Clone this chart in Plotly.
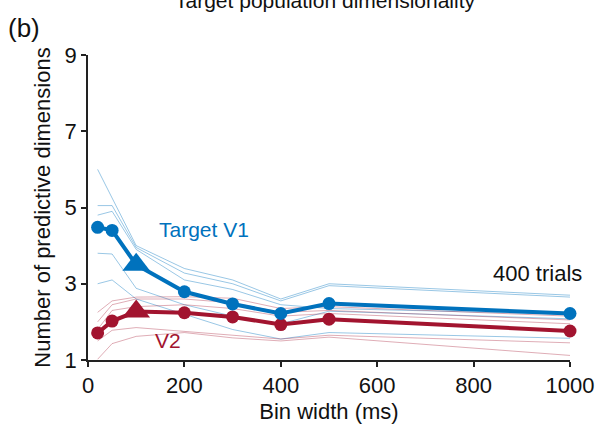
import plotly.graph_objects as go

bin_widths = [20, 50, 100, 200, 300, 400, 500, 1000]

v1_mean = [4.48, 4.40, 3.50, 2.79, 2.47, 2.22, 2.48, 2.22]
v2_mean = [1.71, 2.02, 2.27, 2.24, 2.13, 1.93, 2.07, 1.76]

v1_individual = [
    [6.00, 5.25, 4.00, 3.40, 3.10, 2.60, 3.00, 2.70],
    [5.05, 5.05, 3.95, 3.28, 3.00, 2.55, 2.95, 2.65],
    [4.80, 4.90, 3.90, 3.10, 2.85, 2.45, 2.35, 2.20],
    [3.80, 3.78, 2.88, 2.45, 2.15, 1.95, 2.28, 2.08],
    [3.00, 3.10, 2.60, 2.20, 1.80, 1.55, 1.72, 1.57],
]
v2_individual = [
    [2.25, 2.55, 2.65, 2.66, 2.62, 2.35, 2.40, 2.15],
    [2.00, 2.45, 2.60, 2.60, 2.50, 2.25, 2.30, 2.05],
    [1.80, 2.30, 2.40, 2.45, 2.35, 2.15, 2.22, 1.95],
    [1.50, 1.78, 1.85, 1.75, 1.65, 1.55, 1.65, 1.45],
    [1.02, 1.43, 1.62, 1.72, 1.58, 1.50, 1.60, 1.12],
]

x_ticks = [0, 200, 400, 600, 800, 1000]
y_ticks = [1, 3, 5, 7, 9]

BLUE = "#0072BD"
RED = "#A2142F"
LIGHT_BLUE = "rgba(0,114,189,0.40)"
LIGHT_RED = "rgba(162,20,47,0.35)"
FONT = "Liberation Sans, Arial, sans-serif"
FS = 22

fig = go.Figure()

for ys in v1_individual:
    fig.add_trace(go.Scatter(x=bin_widths, y=ys, mode="lines",
                             line=dict(color=LIGHT_BLUE, width=1),
                             showlegend=False, hoverinfo="skip", cliponaxis=False))
for ys in v2_individual:
    fig.add_trace(go.Scatter(x=bin_widths, y=ys, mode="lines",
                             line=dict(color=LIGHT_RED, width=1),
                             showlegend=False, hoverinfo="skip", cliponaxis=False))

symbols = ["triangle-up" if b == 100 else "circle" for b in bin_widths]
sizes = [24 if b == 100 else 13 for b in bin_widths]

for ys, col in ((v2_mean, RED), (v1_mean, BLUE)):
    fig.add_trace(go.Scatter(x=bin_widths, y=ys, mode="lines+markers",
                             line=dict(color=col, width=4),
                             marker=dict(color=col, symbol=symbols, size=sizes,
                                         opacity=1, line=dict(width=0)),
                             opacity=1, showlegend=False, cliponaxis=False))

axis_common = dict(showline=True, linecolor="#222", linewidth=1.5,
                   ticks="outside", ticklen=5, tickwidth=1.5, tickcolor="#222",
                   showgrid=False, zeroline=False, automargin=False,
                   tickfont=dict(family=FONT, size=FS, color="#111"))

fig.update_xaxes(range=[0, 1000], tickvals=x_ticks,
                 title=dict(text="Bin width (ms)", font=dict(family=FONT, size=FS, color="#111"), standoff=6),
                 **axis_common)
fig.update_yaxes(range=[1, 9], tickvals=y_ticks,
                 title=dict(text="Number of predictive dimensions", font=dict(family=FONT, size=FS, color="#111"), standoff=8),
                 **axis_common)

fig.add_annotation(x=241, y=4.43, xref="x", yref="y", text="Target V1", showarrow=False,
                   font=dict(family=FONT, size=FS - 1, color=BLUE))
fig.add_annotation(x=166, y=1.5, xref="x", yref="y", text="V2", showarrow=False,
                   font=dict(family=FONT, size=FS - 1, color=RED))
fig.add_annotation(x=1000, y=3.28, xref="x", yref="y", text="400 trials", showarrow=False,
                   xanchor="right", xshift=14, font=dict(family=FONT, size=FS, color="#111"))

W_plot = 598 - 88 - 28
H_plot = 426 - 55 - 66
fig.add_annotation(x=(325 - 88) / W_plot, y=(426 - 66 - 14) / H_plot, xref="paper", yref="paper",
                   text="Target population dimensionality",
                   showarrow=False, xanchor="center", yanchor="bottom",
                   font=dict(family=FONT, size=FS - 1, color="#111"))
fig.add_annotation(x=(6 - 88) / W_plot, y=(426 - 66 - 28) / H_plot, xref="paper", yref="paper",
                   text="(b)", showarrow=False, xanchor="left", yanchor="middle",
                   font=dict(family=FONT, size=26, color="#111"))

fig.update_layout(width=598, height=426, margin=dict(l=88, r=28, t=55, b=66),
                  plot_bgcolor="white", paper_bgcolor="white")

fig.write_html("out.html")
